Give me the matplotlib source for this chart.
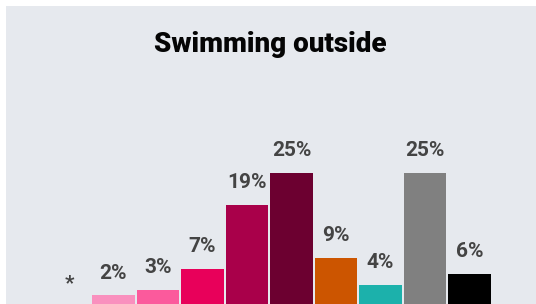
import matplotlib
matplotlib.use("Agg")
import matplotlib.pyplot as plt
from matplotlib.patches import Rectangle

title = "Swimming outside"
categories = ["c0", "c1", "c2", "c3", "c4", "c5", "c6", "c7", "c8", "c9"]
values = [0, 2, 3, 7, 19, 25, 9, 4, 25, 6]
labels = ["*", "2%", "3%", "7%", "19%", "25%", "9%", "4%", "25%", "6%"]
colors = ["#e6e9ee", "#f990be", "#fb5a9c", "#e8005a", "#a9004a", "#6c0030",
          "#cc5500", "#1cb1ab", "#808080", "#000000"]

W, H = 536, 304
fig = plt.figure(figsize=(W / 100, H / 100), dpi=100)
fig.patch.set_facecolor("white")
bg = "#e6e9ee"
fig.patches.append(Rectangle((6 / W, 0), (W - 6) / W, (H - 6) / H, transform=fig.transFigure,
                             facecolor=bg, edgecolor="none", zorder=-10))

fig.text(270 / W, 1 - 45 / H, title, ha="center", va="center",
         fontsize=20, fontweight="black", family="Roboto", color="#050505")

# axes: x from 46.75 px to 491.75 px, baseline at 306 px
left, right = 46.75, 491.75
bottom_px, top_px = 306, 100
ax = fig.add_axes([left / W, 1 - bottom_px / H, (right - left) / W, (bottom_px - top_px) / H])
ax.set_facecolor("none")
scale = 5.333
ax.set_xlim(-0.5, len(categories) - 0.5)
ax.set_ylim(0, (bottom_px - top_px) / scale)
x = list(range(len(categories)))
ax.bar(x, values, width=0.966, color=colors, edgecolor="none")
for xi, v, lab in zip(x, values, labels):
    ax.annotate(lab, (xi, v), xytext=(0, 12), textcoords="offset points",
                ha="center", va="baseline", fontsize=15, fontweight="bold",
                family="Roboto", color="#444444")
ax.axis("off")

fig.savefig("out.png", dpi=100, facecolor=fig.get_facecolor())
